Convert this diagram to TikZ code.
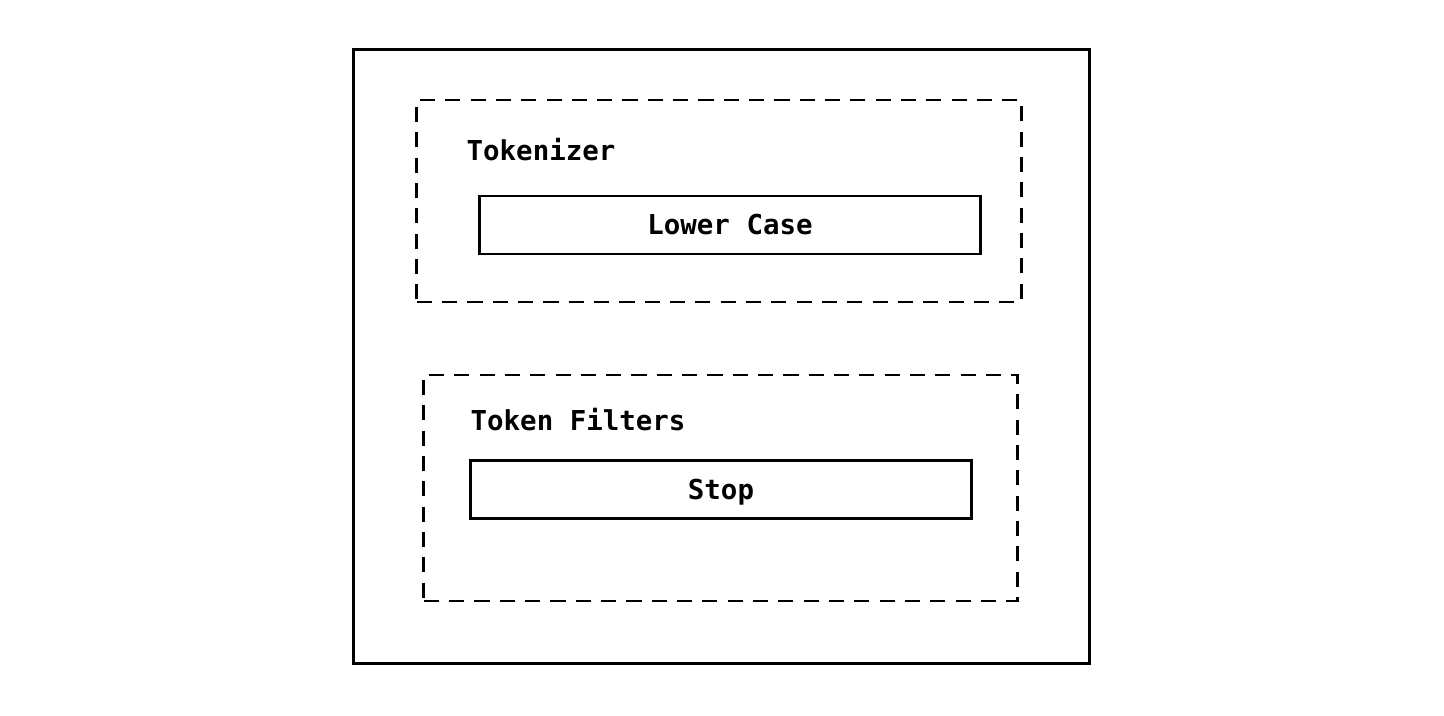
\documentclass[tikz,border=0pt]{standalone}
\usepackage{fontspec}
\setmonofont{DejaVu Sans Mono}
\usepackage{tikz}

\tikzset{
  outer/.style={draw, line width=0.8pt, minimum width=7.35cm, minimum height=6.13cm},
  group/.style={draw, line width=0.8pt, dash pattern=on 4.3pt off 2.9pt},
  filterbox/.style={draw, line width=0.8pt, minimum width=5cm, minimum height=0.58cm,
    font=\ttfamily\bfseries\fontsize{7.8}{9}\selectfont},
  title/.style={anchor=west, inner sep=0pt, font=\ttfamily\bfseries\fontsize{7.8}{9}\selectfont}
}

\begin{document}
\begin{tikzpicture}[x=0.01cm, y=-0.01cm]
        \useasboundingbox (0,0) rectangle (1444,716);
        \node[outer] (analyzer) at (721.5,356.5) {};
        \node[group, minimum width=6.04cm, minimum height=2.02cm] (tokenizer) at (719,201) {};
        \node[title] (tokenizerlabel) at (466,150) {Tokenizer};
        \node[filterbox] (lowercase) at (730,225) {Lower Case};
        \node[group, minimum width=5.93cm, minimum height=2.26cm] (filters) at (720.5,488) {};
        \node[title] (filterslabel) at (470,420) {Token Filters};
        \node[filterbox, text depth=0pt] (stop) at (721,489.5) {Stop};
    \end{tikzpicture}
\end{document}
